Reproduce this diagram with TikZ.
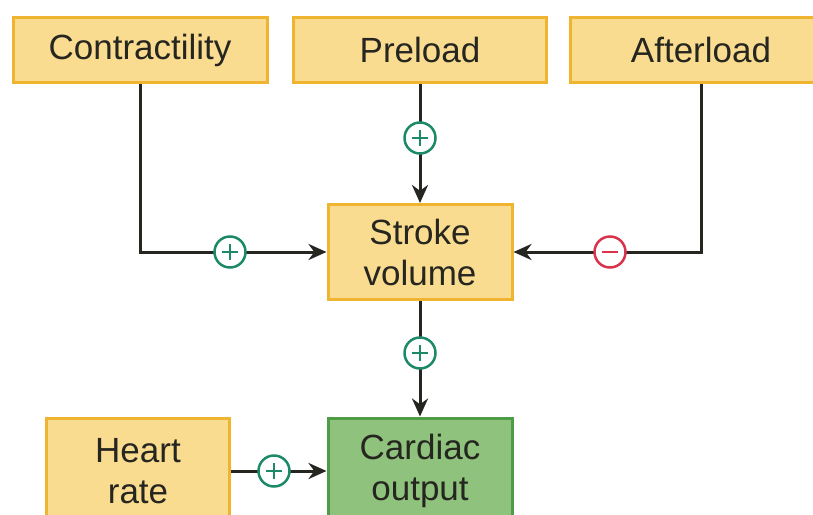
\documentclass[tikz,border=0pt]{standalone}
\usepackage{fontspec}
\setmainfont{Liberation Sans}
\usetikzlibrary{arrows.meta}
\definecolor{boxfill}{HTML}{FADC90}
\definecolor{boxline}{HTML}{F0B530}
\definecolor{cofill}{HTML}{8FC27C}
\definecolor{coline}{HTML}{4E9C45}
\definecolor{plusc}{HTML}{1C8A68}
\definecolor{minusc}{HTML}{D8344C}
\definecolor{ink}{HTML}{262620}
\tikzset{
  x=1pt, y=-1pt,
  ybox/.style={draw=boxline, fill=boxfill, line width=3pt, text=ink,
    font=\fontsize{35}{41}\selectfont, align=center, inner sep=0pt},
  gbox/.style={ybox, draw=coline, fill=cofill},
  conn/.style={draw=ink, line width=3pt, -{Stealth[length=18pt,width=16pt]}},
  signc/.style={circle, draw=#1, fill=white, line width=2.5pt, minimum size=31pt, inner sep=0pt},
  plus/.style={signc=plusc, path picture={
    \draw[plusc, line width=2.4pt] ([xshift=-8pt]path picture bounding box.center) -- ([xshift=8pt]path picture bounding box.center);
    \draw[plusc, line width=2.4pt] ([yshift=-8pt]path picture bounding box.center) -- ([yshift=8pt]path picture bounding box.center);}},
  minus/.style={signc=minusc, path picture={
    \draw[minusc, line width=2.4pt] ([xshift=-8pt]path picture bounding box.center) -- ([xshift=8pt]path picture bounding box.center);}}
}
\begin{document}
\begin{tikzpicture}
\useasboundingbox (0,0) rectangle (813,514);
\fill[white] (0,0) rectangle (813,514);
% boxes
\node[ybox, minimum width=254pt, minimum height=65pt] (contr) at (140,50) {Contractility};
\node[ybox, minimum width=253pt, minimum height=65pt] (pre) at (420,50) {Preload};
\node[ybox, minimum width=262pt, minimum height=65pt] (after) at (701,50) {Afterload};
\node[ybox, minimum width=184pt, minimum height=95pt] (sv) at (420,252) {Stroke\\volume};
\node[gbox, minimum width=184pt, minimum height=106pt] (co) at (420,471) {Cardiac\\output};
\node[ybox, minimum width=183pt, minimum height=106pt] (hr) at (138,471) {Heart\\rate};
% connectors
\draw[conn] (contr) |- (sv);
\draw[conn] (pre) -- (sv);
\draw[conn] (after) |- (sv);
\draw[conn] (sv) -- (co);
\draw[conn] (hr) -- (co);
% signs
\node[plus] (p1) at (230,252) {};
\node[plus] (p2) at (420,138) {};
\node[minus] (m1) at (610,252) {};
\node[plus] (p3) at (420,353) {};
\node[plus] (p4) at (274,471) {};
\end{tikzpicture}
\end{document}
